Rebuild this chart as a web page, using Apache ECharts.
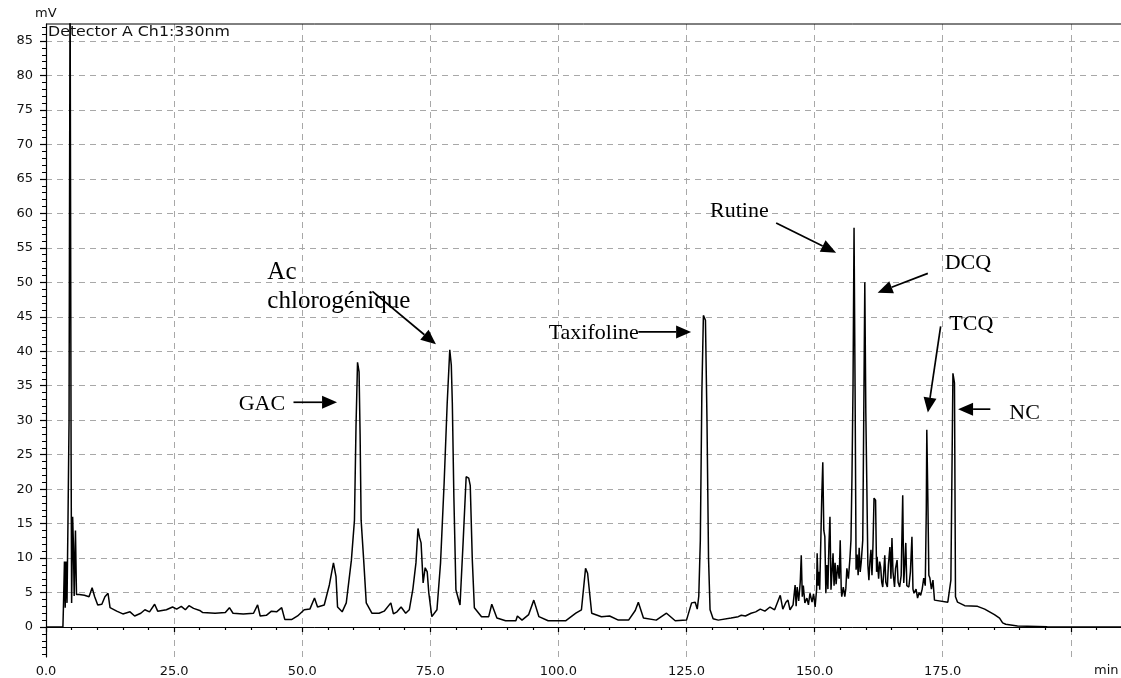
<!DOCTYPE html>
<html><head><meta charset="utf-8">
<script src="https://cdn.jsdelivr.net/npm/echarts@6/dist/echarts.min.js"></script>
<style>html,body{margin:0;padding:0;background:#fff}#c{width:1121px;height:678px}</style>
</head><body><div id="c"></div>
<script>
// ---- chromatogram: [time (min), signal (mV)] ----
const chromatogram = [
  [0,0],[3.3,0],[3.4,2.8],[3.6,9.5],[3.75,2.8],[3.9,9.5],[4.1,3.5],[4.3,16],[4.5,30],[4.7,95],
  [4.9,25],[5.0,3.5],[5.2,16],[5.35,12],[5.5,4.5],[5.75,14],[5.95,4.7],[6.5,4.7],[7.5,4.6],[8.4,4.4],
  [9.0,5.7],[9.5,4.4],[10.1,3.2],[10.9,3.3],[11.5,4.4],[12.1,4.9],[12.5,2.8],[13.8,2.3],[15.0,1.9],[16.4,2.2],
  [17.3,1.6],[18.5,2.0],[19.3,2.5],[20.2,2.2],[21.2,3.3],[21.8,2.3],[23.5,2.5],[24.7,2.9],[25.5,2.6],[26.4,3.0],
  [27.2,2.5],[27.9,3.1],[28.8,2.7],[30.0,2.4],[30.6,2.1],[33.0,2.0],[35.0,2.1],[35.8,2.8],[36.5,2.0],[38.5,1.9],
  [40.5,2.0],[41.3,3.2],[41.8,1.6],[43.0,1.7],[44.0,2.3],[45.0,2.2],[46.0,2.8],[46.6,1.1],[48.0,1.1],[49.1,1.6],
  [50.4,2.5],[51.5,2.6],[52.4,4.2],[53.0,2.9],[54.3,3.2],[55.3,6.1],[56.1,9.3],[56.6,7.3],[56.9,2.9],[57.8,2.2],
  [58.6,3.5],[59.6,9.7],[60.2,15.5],[60.5,29],[60.8,38.4],[61.1,37],[61.3,28],[61.5,15.5],[62.0,9.7],[62.5,3.5],
  [63.6,2.0],[65.0,2.0],[66.0,2.3],[67.3,3.5],[67.8,1.9],[68.5,2.2],[69.3,2.9],[70.2,2.0],[70.9,2.5],[71.6,5.5],
  [72.2,9.3],[72.6,14.3],[72.9,13.0],[73.2,12.2],[73.6,6.4],[74.0,8.6],[74.4,8.0],[74.7,5.0],[75.3,1.5],[76.3,2.5],
  [77.0,9.3],[77.7,20.9],[78.3,32.5],[78.8,40.2],[79.1,38.0],[79.3,32.5],[79.6,18.9],[80.0,5.4],[80.8,3.2],[81.4,12.2],
  [82.0,21.8],[82.5,21.6],[82.8,20.5],[83.2,9.7],[83.6,2.8],[85.0,1.5],[86.4,1.5],[87.0,3.3],[88.0,1.3],[89.7,0.9],
  [91.7,0.9],[92.0,1.6],[92.9,1.0],[94.2,1.8],[95.2,3.9],[96.2,1.5],[98.0,0.9],[101.4,0.9],[103.4,2.0],[104.5,2.5],
  [105.3,8.5],[105.7,7.8],[106.5,2.0],[108.4,1.5],[110.0,1.6],[111.7,1.0],[113.7,1.0],[115.0,2.4],[115.6,3.6],[116.6,1.3],
  [119.1,1.0],[121.1,2.0],[122.8,0.9],[125.0,1.0],[126.0,3.5],[126.7,3.6],[127.1,2.6],[127.4,4.5],[127.7,12.6],[128.0,34],
  [128.3,45.2],[128.7,44.5],[129.0,30],[129.3,10],[129.6,2.5],[130.2,1.2],[131.2,1.0],[133.7,1.3],[135.1,1.5],[135.7,1.7],
  [136.5,1.6],[137.6,2.0],[138.5,2.2],[139.4,2.6],[140.3,2.3],[141.3,2.9],[142.2,2.5],[143.3,4.6],[143.8,2.6],[144.4,3.6],
  [144.8,3.9],[145.2,2.5],[145.8,3.2],[146.2,6.1],[146.4,3.0],[146.6,5.8],[146.9,3.8],[147.2,6.5],[147.4,10.4],[147.6,4.4],
  [147.8,6.0],[148.1,3.5],[148.5,4.2],[148.8,3.2],[149.1,4.9],[149.5,3.6],[149.8,4.8],[150.1,2.9],[150.4,5.5],[150.5,10.7],
  [150.7,6.0],[150.9,8.0],[151.0,5.4],[151.2,12],[151.4,18.9],[151.6,23.9],[151.8,14.0],[152.0,13.1],[152.2,4.9],[152.4,9.0],
  [152.6,5.5],[152.8,12.0],[153.0,16.0],[153.2,5.4],[153.4,8.0],[153.6,10.7],[153.8,6.0],[154.0,9.3],[154.2,6.2],[154.5,9.0],
  [154.8,7.0],[155.0,12.6],[155.2,5.5],[155.3,4.4],[155.6,5.8],[155.9,4.4],[156.1,5.6],[156.3,8.5],[156.6,7.0],[156.9,10.0],
  [157.1,12.6],[157.3,22],[157.5,34.8],[157.7,57.9],[157.9,34.8],[158.1,8.3],[158.3,10.5],[158.5,7.5],[158.7,11.5],[158.9,8.0],
  [159.1,9.4],[159.4,12.6],[159.6,31],[159.8,50.0],[160.0,31],[160.2,20.3],[160.4,9.0],[160.6,6.8],[160.8,9.5],[161.0,11.2],
  [161.2,7.5],[161.4,12.0],[161.6,18.7],[161.9,18.4],[162.1,8.0],[162.2,10.2],[162.5,7.0],[162.7,9.5],[162.9,8.7],[163.1,6.5],
  [163.3,5.8],[163.5,8.0],[163.7,10.4],[163.9,6.5],[164.2,5.8],[164.4,9.0],[164.7,11.6],[164.9,7.0],[165.1,12.9],[165.3,8.0],
  [165.6,5.8],[165.8,8.5],[166.1,9.7],[166.3,6.5],[166.6,5.8],[166.9,7.5],[167.2,19.1],[167.4,6.4],[167.6,9.0],[167.8,12.2],
  [168.0,6.0],[168.4,5.8],[168.7,8.0],[169.0,13.1],[169.2,5.5],[169.4,4.9],[169.8,5.5],[170.1,4.2],[170.4,5.0],[170.7,4.6],
  [171.0,5.5],[171.3,7.1],[171.6,6.0],[171.8,17],[171.9,28.6],[172.1,18.9],[172.3,7.5],[172.5,7.1],[172.8,5.5],[173.1,6.8],
  [173.4,3.9],[176.0,3.6],[176.6,6.8],[177.0,36.8],[177.3,35.4],[177.5,4.4],[177.9,3.6],[179.3,3.1],[181.8,3.0],[183.2,2.6],
  [185.1,1.8],[186.1,1.3],[186.7,0.6],[187.3,0.4],[189.6,0.15],[195.4,0.05],[209.8,0]
];
const xMajorTicks = [0,25,50,75,100,125,150,175,200];
const xLabelValues = [0,25,50,75,100,125,150,175];
const yMajorTicks = [0,5,10,15,20,25,30,35,40,45,50,55,60,65,70,75,80,85];

const xMinorTicks = [];
for (let v = 5; v <= 205; v += 5) if (v % 25 !== 0) xMinorTicks.push(v);
const yMinorTicks = [];
for (let v = -4; v <= 87; v++) if (v % 5 !== 0) yMinorTicks.push(v);

// annotations (data coordinates: [time, mV])
const annotations = [
  {lines:['GAC'], size:22, at:[37.6, 32.3], from:[48.3, 32.6], to:[56.8, 32.6]},
  {lines:['Ac','chlorogénique'], size:25, at:[43.2, 51.4], from:[63.7, 48.7], to:[76.1, 41.0]},
  {lines:['Taxifoline'], size:22, at:[98.1, 42.6], from:[115.6, 42.8], to:[125.9, 42.8]},
  {lines:['Rutine'], size:22, at:[129.6, 60.3], from:[142.5, 58.6], to:[154.2, 54.3]},
  {lines:['DCQ'], size:22, at:[175.4, 52.8], from:[172.1, 51.3], to:[162.3, 48.5]},
  {lines:['TCQ'], size:22, at:[176.3, 43.9], from:[174.6, 43.6], to:[172.1, 31.1]},
  {lines:['NC'], size:22, at:[188.0, 31.0], from:[184.3, 31.6], to:[178.0, 31.6]}
];

const X_MAX = 209.8, Y_MIN = -4.35, Y_MAX = 87.47;
const chart = echarts.init(document.getElementById('c'), null, {renderer:'canvas'});
const labelFont = {color:'#111', fontFamily:'DejaVu Sans', fontSize:13};
const dashed = {color:'#a8a8a8', type:[6,5], width:1};

chart.setOption({
  animation:false,
  backgroundColor:'#fff',
  grid:{left:46, right:-2, top:24, bottom:21, show:false},
  xAxis:[
    {type:'value', min:0, max:X_MAX, position:'bottom',
     axisLine:{show:true, lineStyle:{color:'#000', width:1}},
     axisTick:{show:true, customValues:xMajorTicks, length:5, lineStyle:{color:'#000', width:1.2}},
     axisLabel:{show:true, customValues:xLabelValues, margin:8, formatter:v=>v.toFixed(1), ...labelFont},
     splitLine:{show:true, lineStyle:dashed}},
    {type:'value', min:0, max:X_MAX, position:'bottom',
     axisLine:{show:false},
     axisTick:{show:true, customValues:xMinorTicks, length:3, lineStyle:{color:'#000', width:1.2}},
     axisLabel:{show:false}, splitLine:{show:false}}
  ],
  yAxis:[
    {type:'value', min:Y_MIN, max:Y_MAX, position:'left',
     axisLine:{show:true, lineStyle:{color:'#000', width:1.2}},
     axisTick:{show:true, customValues:yMajorTicks, length:6, lineStyle:{color:'#000', width:1.2}},
     axisLabel:{show:true, customValues:yMajorTicks, margin:13, ...labelFont},
     splitLine:{show:true, lineStyle:dashed}},
    {type:'value', min:Y_MIN, max:Y_MAX, position:'left',
     axisLine:{show:false},
     axisTick:{show:true, customValues:yMinorTicks, length:4, lineStyle:{color:'#000', width:1}},
     axisLabel:{show:false}, splitLine:{show:false}}
  ],
  series:[{
    type:'line', xAxisIndex:0, yAxisIndex:0, showSymbol:false, clip:true,
    lineStyle:{color:'#000', width:1.5}, z:5,
    data: chromatogram
  }]
});

const toPx = p => chart.convertToPixel({seriesIndex:0}, p);
const g = [];
function arrow(a, b) {
  const dx = b[0]-a[0], dy = b[1]-a[1], L = Math.hypot(dx,dy);
  const ux = dx/L, uy = dy/L, hl = 15, hw = 6.5;
  const bx = b[0]-ux*hl, by = b[1]-uy*hl;
  g.push({type:'line', z:100, shape:{x1:a[0], y1:a[1], x2:bx, y2:by}, style:{stroke:'#000', lineWidth:1.7}});
  g.push({type:'polygon', z:100, shape:{points:[[b[0],b[1]],[bx-uy*hw, by+ux*hw],[bx+uy*hw, by-ux*hw]]}, style:{fill:'#000'}});
}
annotations.forEach(a => {
  const p = toPx(a.at);
  const font = a.size + 'px "Liberation Serif", "Times New Roman", serif';
  a.lines.forEach((ln, k) => {
    g.push({type:'text', z:100, x:p[0], y:p[1] + k*29,
      style:{text:ln, font:font, fill:'#000', align:'left', verticalAlign:'middle', textAlign:'left', textVerticalAlign:'middle'}});
  });
  arrow(toPx(a.from), toPx(a.to));
});
// top frame line of the plot area
const tl = toPx([0, Y_MAX]);
g.push({type:'line', z:50, shape:{x1:tl[0], y1:tl[1], x2:1121, y2:tl[1]}, style:{stroke:'#000', lineWidth:1}});
const sans = '13px "DejaVu Sans", sans-serif';
g.push({type:'text', z:100, x:35, y:14, style:{text:'mV', font:sans, fill:'#111', align:'left', verticalAlign:'middle', textAlign:'left', textVerticalAlign:'middle'}});
g.push({type:'text', z:100, x:48, y:32, scaleX:1.13, style:{text:'Detector A Ch1:330nm', font:'14px "DejaVu Sans", sans-serif', fill:'#111', align:'left', verticalAlign:'middle', textAlign:'left', textVerticalAlign:'middle'}});
g.push({type:'text', z:100, x:1094, y:671, style:{text:'min', font:sans, fill:'#111', align:'left', verticalAlign:'middle', textAlign:'left', textVerticalAlign:'middle'}});
chart.setOption({graphic:g});
</script>
</body></html>
